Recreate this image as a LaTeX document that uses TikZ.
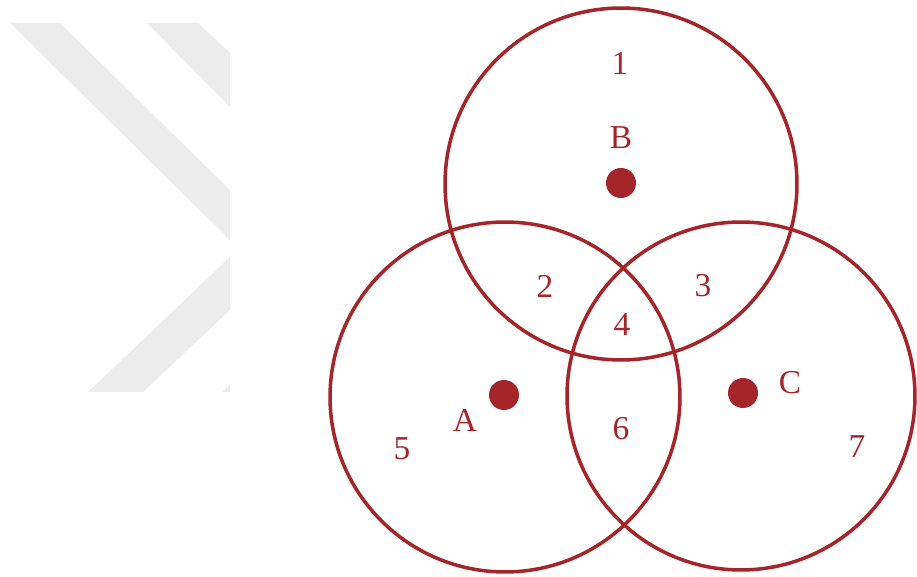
\documentclass[tikz,border=0pt]{standalone}
\usepackage{fontspec}
\setmainfont{Liberation Serif}
\definecolor{vennred}{RGB}{165,38,42}
\definecolor{markgray}{RGB}{236,236,236}
\begin{document}
\begin{tikzpicture}[x=0.02cm, y=-0.02cm,
  ring/.style={draw=vennred, line width=2pt},
  spot/.style={circle, fill=vennred, inner sep=0pt, minimum size=0.6cm},
  lbl/.style={text=vennred, font=\fontsize{19}{19}\selectfont, inner sep=0pt}]
  \useasboundingbox[fill=white] (0,0) rectangle (917,577);

  % Watermark chevrons
  \fill[markgray] (10,23) -- (60,23) -- (230,190) -- (230,240) -- cycle;
  \fill[markgray] (88,392) -- (143,392) -- (230,310) -- (230,257) -- cycle;
  \fill[markgray] (147,23) -- (198,23) -- (230,53) -- (230,107) -- cycle;
  \fill[markgray] (222,392) -- (230,392) -- (230,385) -- cycle;

  % Circles
  \draw[ring] (621,184) circle[radius=3.52cm];
  \draw[ring] (505,397) circle[radius=3.5cm];
  \draw[ring] (741,396) circle[radius=3.48cm];

  % Centres
  \node[spot] (dotB) at (621,183) {};
  \node[spot] (dotA) at (504,395) {};
  \node[spot] (dotC) at (743,393) {};
  \node[lbl] (nameB) at (621,138) {B};
  \node[lbl] (nameA) at (465,420) {A};
  \node[lbl] (nameC) at (790,383) {C};

  % Regions
  \node[lbl] (r1) at (620,63) {1};
  \node[lbl] (r2) at (545,286) {2};
  \node[lbl] (r3) at (703,286) {3};
  \node[lbl] (r4) at (622,325) {4};
  \node[lbl] (r5) at (402,449) {5};
  \node[lbl] (r6) at (621,429) {6};
  \node[lbl] (r7) at (857,447) {7};
\end{tikzpicture}
\end{document}
